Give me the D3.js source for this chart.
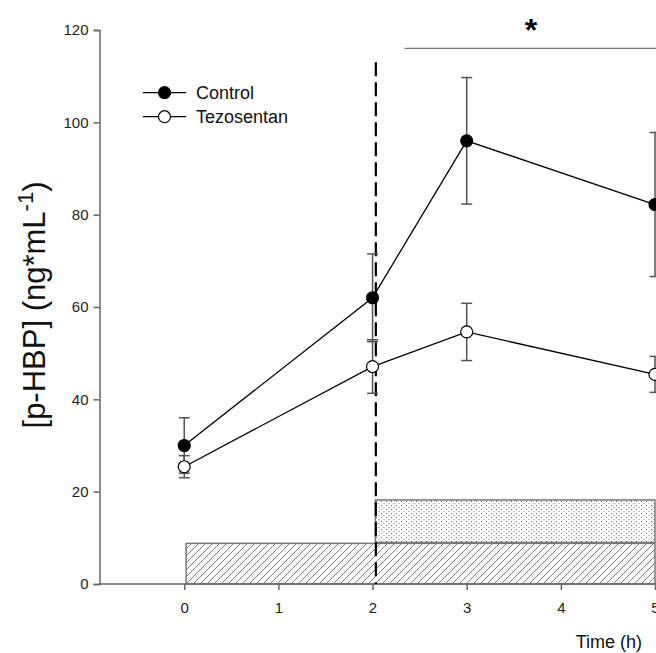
<!DOCTYPE html>
<html>
<head>
<meta charset="utf-8">
<script src="https://cdn.jsdelivr.net/npm/d3@7"></script>
<style>
  html, body { margin: 0; padding: 0; background: #fff; overflow: hidden; }
  text { font-family: Arial, "Liberation Sans", sans-serif; }
</style>
</head>
<body>
<div id="lineChart"></div>
<script>
// data
var times = [0, 2, 3, 5];
var controlMean = [30, 62, 96, 82.2];
var controlSem = [6, 9.5, 13.7, 15.6];
var tezoMean = [25.4, 47.1, 54.6, 45.4];
var tezoSem = [2.4, 5.8, 6.2, 3.9];
var seriesNames = ["Control", "Tezosentan"];
var xTicks = [0, 1, 2, 3, 4, 5];
var yTicks = [0, 20, 40, 60, 80, 100, 120];
// treatment bars: [start, end, low, high]
var hatchBar = [0.02, 5, 0, 8.8];
var dotBar = [2.03, 5, 9, 18.2];
var infusionTime = 2.035;
var sigRange = [2.34, 5.2];
var sigLevel = 116;

var width = 656, height = 653;
var svg, x, y;

function initSvg() {
    svg = d3.select("#lineChart")
        .append("svg")
        .attr("width", width)
        .attr("height", height);
    var defs = svg.append("defs");
    var hatch = defs.append("pattern")
        .attr("id", "hatch")
        .attr("patternUnits", "userSpaceOnUse")
        .attr("width", 7).attr("height", 7);
    hatch.append("path")
        .attr("d", "M-1,8 L8,-1 M-1,1 L1,-1 M6,8 L8,6")
        .attr("stroke", "#444").attr("stroke-width", 0.7);
    var dots = defs.append("pattern")
        .attr("id", "dots")
        .attr("patternUnits", "userSpaceOnUse")
        .attr("width", 5).attr("height", 4);
    dots.append("rect").attr("x", 1).attr("y", 1).attr("width", 1).attr("height", 1).attr("fill", "#666");
    dots.append("rect").attr("x", 3.5).attr("y", 3).attr("width", 1).attr("height", 1).attr("fill", "#888");
}

function initAxis() {
    x = d3.scaleLinear().domain([-0.9, 5]).range([99.5, 655]);
    y = d3.scaleLinear().domain([0, 120]).range([584, 30]);
}

function drawAxis() {
    var yAxis = svg.append("g")
        .attr("transform", "translate(" + x(-0.9) + ",0)")
        .call(d3.axisLeft(y).tickValues(yTicks).tickFormat(d3.format("d")).tickSize(6).tickPadding(5));
    var xAxis = svg.append("g")
        .attr("transform", "translate(0," + y(0) + ")")
        .call(d3.axisBottom(x).tickValues(xTicks).tickFormat(d3.format("d")).tickSize(6).tickPadding(12));
    [xAxis, yAxis].forEach(function (g) {
        g.attr("font-family", null).attr("font-size", null);
        g.select(".domain").attr("stroke", "#666").attr("stroke-width", 1.5);
        g.selectAll(".tick line").attr("stroke", "#666").attr("stroke-width", 1.5);
        g.selectAll(".tick text").attr("fill", "#222").style("font-size", "15px");
    });
    xAxis.select(".domain").attr("d", "M" + x(-0.9) + ",0H" + (width + 5));

    svg.append("text")
        .attr("x", 642).attr("y", 648)
        .attr("text-anchor", "end")
        .style("font-size", "18px")
        .attr("fill", "#111")
        .text("Time (h)");

    var lab = svg.append("text")
        .attr("transform", "translate(45," + 305 + ") rotate(-90)")
        .attr("text-anchor", "middle")
        .style("font-size", "31px")
        .attr("fill", "#111");
    lab.append("tspan").text("[p-HBP] (ng*mL");
    lab.append("tspan").attr("dy", -12).style("font-size", "22px").text("-1");
    lab.append("tspan").attr("dy", 12).text(")");
}

function drawBars() {
    [[hatchBar, "url(#hatch)"], [dotBar, "url(#dots)"]].forEach(function (b) {
        var d = b[0];
        svg.append("rect")
            .attr("x", x(d[0]))
            .attr("y", y(d[3]))
            .attr("width", x(d[1]) - x(d[0]))
            .attr("height", y(d[2]) - y(d[3]))
            .attr("fill", b[1])
            .attr("stroke", "#777")
            .attr("stroke-width", 1.5);
    });
}

function drawMarkers() {
    svg.append("line")
        .attr("x1", x(infusionTime)).attr("x2", x(infusionTime))
        .attr("y1", y(113)).attr("y2", y(0))
        .attr("stroke", "#000")
        .attr("stroke-width", 2.2)
        .attr("stroke-dasharray", "14,6");
    svg.append("line")
        .attr("x1", x(sigRange[0])).attr("x2", x(sigRange[1]))
        .attr("y1", y(sigLevel)).attr("y2", y(sigLevel))
        .attr("stroke", "#777")
        .attr("stroke-width", 1.3);
    svg.append("text")
        .attr("x", 531).attr("y", 41)
        .attr("text-anchor", "middle")
        .style("font-size", "32px")
        .style("font-weight", "bold")
        .text("*");
}

function drawSeries(means, sems) {
    var pts = times.map(function (t, i) { return { t: t, m: means[i], s: sems[i] }; });
    var g = svg.append("g");
    g.selectAll("line.err").data(pts).enter().append("line")
        .attr("x1", function (d) { return x(d.t); })
        .attr("x2", function (d) { return x(d.t); })
        .attr("y1", function (d) { return y(d.m - d.s); })
        .attr("y2", function (d) { return y(d.m + d.s); })
        .attr("stroke", "#555").attr("stroke-width", 1.5);
    [-1, 1].forEach(function (sgn) {
        g.selectAll("line.cap" + sgn).data(pts).enter().append("line")
            .attr("x1", function (d) { return x(d.t) - 5.5; })
            .attr("x2", function (d) { return x(d.t) + 5.5; })
            .attr("y1", function (d) { return y(d.m + sgn * d.s); })
            .attr("y2", function (d) { return y(d.m + sgn * d.s); })
            .attr("stroke", "#555").attr("stroke-width", 1.5);
    });
    return pts;
}

function drawLines(pts, filled) {
    var line = d3.line()
        .x(function (d) { return x(d.t); })
        .y(function (d) { return y(d.m); });
    svg.append("path")
        .datum(pts)
        .attr("fill", "none")
        .attr("stroke", "#000")
        .attr("stroke-width", 1.3)
        .attr("d", line);
    svg.append("g").selectAll("circle").data(pts).enter().append("circle")
        .attr("cx", function (d) { return x(d.t); })
        .attr("cy", function (d) { return y(d.m); })
        .attr("r", 6)
        .attr("fill", filled ? "#000" : "#fff")
        .attr("stroke", "#000")
        .attr("stroke-width", 1.2);
}

function drawLegend() {
    seriesNames.forEach(function (name, i) {
        var ly = 92.7 + i * 24;
        svg.append("line")
            .attr("x1", 143).attr("x2", 186)
            .attr("y1", ly).attr("y2", ly)
            .attr("stroke", "#000").attr("stroke-width", 1.3);
        svg.append("circle")
            .attr("cx", 164.5).attr("cy", ly).attr("r", 6)
            .attr("fill", i === 0 ? "#000" : "#fff")
            .attr("stroke", "#000").attr("stroke-width", 1.2);
        svg.append("text")
            .attr("x", 196).attr("y", ly + 6.5)
            .style("font-size", "18px")
            .attr("fill", "#111")
            .text(name);
    });
}

initSvg();
initAxis();
drawBars();
drawAxis();
drawMarkers();
var cPts = drawSeries(controlMean, controlSem);
var tPts = drawSeries(tezoMean, tezoSem);
drawLines(cPts, true);
drawLines(tPts, false);
drawLegend();
</script>
</body>
</html>
